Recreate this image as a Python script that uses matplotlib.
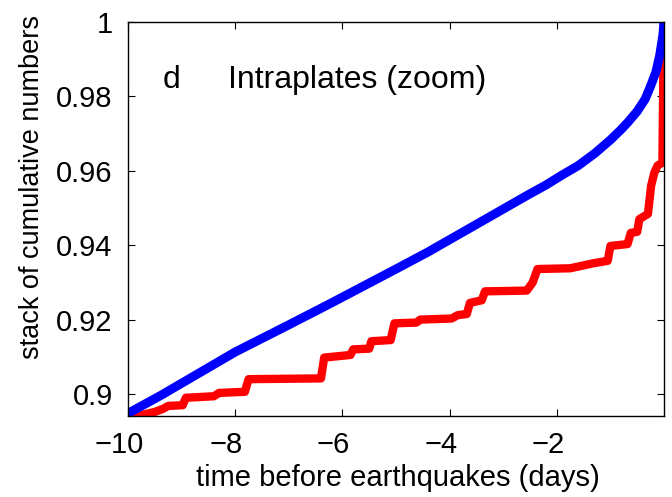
import numpy as np
import matplotlib.pyplot as plt
import matplotlib.transforms as mtransforms

# blue: all events, red: intraplate subset
blue_t = [-10.0, -9.38, -8.0, -7.0, -6.27, -5.0, -4.4, -3.5, -2.54, -2.2,
          -1.92, -1.6, -1.29, -1.0, -0.8, -0.67, -0.5, -0.35, -0.25, -0.15,
          -0.08, -0.02, 0.0]
blue_y = [0.8948, 0.8997, 0.9113, 0.9186, 0.9240, 0.9336, 0.9382, 0.9456, 0.9535, 0.9562,
          0.9587, 0.9614, 0.9647, 0.9683, 0.9711, 0.9731, 0.9760, 0.9793, 0.9828, 0.9866,
          0.9910, 0.9965, 1.0]

red_t = [-9.85, -9.5, -9.35, -9.25, -8.98, -8.92, -8.40, -8.30, -7.82, -7.75,
         -6.40, -6.34, -5.85, -5.80, -5.50, -5.46, -5.10, -5.03, -4.62, -4.55,
         -3.96, -3.85, -3.68, -3.62, -3.40, -3.34, -2.56, -2.45, -2.36, -1.75,
         -1.30, -1.05, -1.00, -0.68, -0.62, -0.50, -0.46, -0.30, -0.24, -0.18,
         -0.12, -0.03, -0.01, 0.0]
red_y = [0.8940, 0.8952, 0.8960, 0.8968, 0.8970, 0.8990, 0.8994, 0.9003, 0.9006, 0.9040,
         0.9042, 0.9098, 0.9105, 0.9120, 0.9122, 0.9142, 0.9145, 0.9190, 0.9192, 0.9200,
         0.9203, 0.9212, 0.9215, 0.9245, 0.9252, 0.9276, 0.9278, 0.9300, 0.9336, 0.9338,
         0.9352, 0.9358, 0.9398, 0.9403, 0.9433, 0.9436, 0.9470, 0.9484, 0.9560, 0.9595,
         0.9614, 0.9622, 0.9900, 1.0]

xticks = [-10, -8, -6, -4, -2]
yticks = [0.9, 0.92, 0.94, 0.96, 0.98, 1.0]
ytick_labels = ['0.9', '0.92', '0.94', '0.96', '0.98', '1']

plt.rcParams['font.family'] = ['Liberation Sans', 'DejaVu Sans']
fs = 21

fig = plt.figure(figsize=(6.72, 4.97), dpi=100)
ax = fig.add_axes([0.1905, 0.163, 0.7976, 0.7928])

ax.plot(red_t, red_y, color='#ff0000', linewidth=6, solid_joinstyle='round')
ax.plot(blue_t, blue_y, color='#0000ff', linewidth=6.5, solid_joinstyle='round')

ax.set_xlim(-10, 0)
ax.set_ylim(0.8941, 1.0)
ax.set_xticks(xticks)
ax.set_xticklabels([f'\u2212{abs(t)}' for t in xticks])
ax.set_yticks(yticks)
ax.set_yticklabels(ytick_labels)
ax.tick_params(direction='in', length=5, width=0.8, top=True, right=True,
               labelsize=fs)
ax.tick_params(axis='x', pad=11)
ax.tick_params(axis='y', pad=11)
for s in ax.spines.values():
    s.set_linewidth(1.0)

# x tick labels sit a little left of their ticks in the original
shift = mtransforms.ScaledTranslation(-9 / 100, 0, fig.dpi_scale_trans)
for lab in ax.get_xticklabels():
    lab.set_transform(lab.get_transform() + shift)

ax.set_xlabel('time before earthquakes (days)', fontsize=fs, va='baseline')
ax.xaxis.set_label_coords(0.503, -0.178)
ax.set_ylabel('stack of cumulative numbers', fontsize=19.5, va='center')
ax.yaxis.set_label_coords(-0.18, 0.582)

ax.text(-9.35, 0.9844, 'd', fontsize=23, va='center')
ax.text(-8.13, 0.9844, 'Intraplates (zoom)', fontsize=23, va='center')

fig.savefig('out.png', dpi=100)
